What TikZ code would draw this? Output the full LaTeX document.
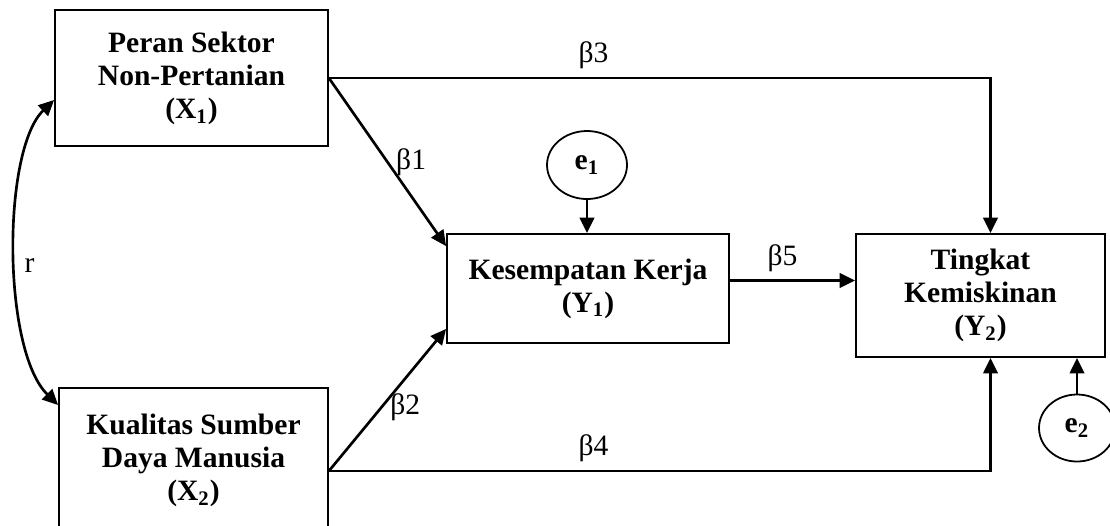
\documentclass[tikz,border=0pt]{standalone}
\usepackage{fontspec}
\setmainfont{Liberation Serif}
\usetikzlibrary{arrows.meta,%
                shapes,positioning}
\newdimen\px \px=0.45pt

\begin{document}
\begin{tikzpicture}[x=0.45pt,y=-0.45pt,
  box/.style={draw,line width=0.8pt,align=center,font=\fontsize{13.3pt}{14.9pt}\selectfont\bfseries},
  err/.style={draw,ellipse,line width=0.8pt,inner sep=0pt,font=\fontsize{13.3pt}{14.9pt}\selectfont\bfseries},
  coef/.style={font=\fontsize{13.3pt}{14.9pt}\selectfont},
  arr/.style={line width=1.2pt,-{Triangle[length=7pt,width=6.5pt]}},
  corr/.style={line width=1.2pt,{Triangle[length=7pt,width=6.5pt]}-{Triangle[length=7pt,width=6.5pt]}}]
\useasboundingbox (0,0) rectangle (1110,525);
\clip (0,0) rectangle (1110,525);
%\draw[help lines] (0,0) grid (1110,525);
\node[box,minimum width=273\px,minimum height=136\px] (X1) at (191.5,78) {Peran Sektor\\Non-Pertanian\\(X\textsubscript{1})};
\node[box,minimum width=269\px,minimum height=144\px] (X2) at (193.5,460) {Kualitas Sumber\\Daya Manusia\\(X\textsubscript{2})};
\node[box,minimum width=282\px,minimum height=109\px] (Y1) at (588,288.5) {Kesempatan Kerja\\(Y\textsubscript{1})};
\node[box,minimum width=249\px,minimum height=123\px] (Y2) at (980.5,295.5) {Tingkat\\Kemiskinan\\(Y\textsubscript{2})};
\node[err,minimum width=80\px,minimum height=68\px] (E1) at (587,165) {e\textsubscript{1}};
\node[err,minimum width=76\px,minimum height=67\px] (E2) at (1077,428) {e\textsubscript{2}};
\draw[arr] (X1.east) -- ([yshift=-13\px]Y1.north west) node[coef,midway,right] {β1};
\draw[arr] ([yshift=-11\px]X2.east) -- ([yshift=15\px]Y1.south west) node[coef,pos=0.45,right] {β2};
\draw[arr] (X1.east) -| ([xshift=10\px]Y2.north) node[coef,pos=0.2,above] {β3};
\draw[arr] ([yshift=-11\px]X2.east) -| ([xshift=10\px]Y2.south) node[coef,pos=0.2,above] {β4};
\draw[arr] ([yshift=8\px]Y1.east) -- ([yshift=8\px]Y1.east -| Y2.west) node[coef,pos=0.42,above] {β5};
\draw[arr] (E1.south) -- (E1.south |- Y1.north);
\draw[arr] (E2.north) -- (E2.north |- Y2.south);
\draw[corr] ([yshift=-22\px]X1.west) .. controls (2,150) and (2,350) .. ([yshift=55\px]X2.west) node[coef,pos=0.54,right] {r};
\end{tikzpicture}
\end{document}
